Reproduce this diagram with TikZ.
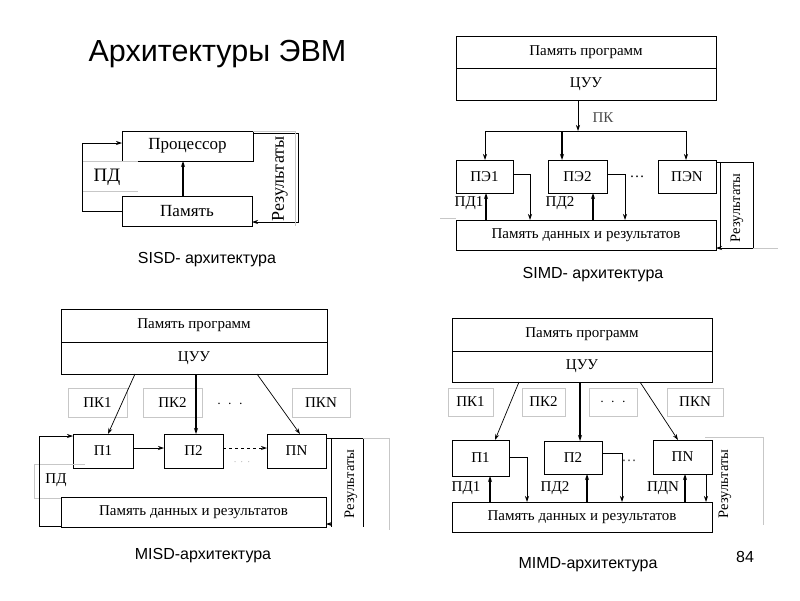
\documentclass[tikz,border=0pt]{standalone}
\usepackage{fontspec}
\setmainfont{Liberation Serif}
\newfontfamily\sansf{Liberation Sans}
\usetikzlibrary{arrows.meta}
\begin{document}
\begin{tikzpicture}[x=1pt,y=-1pt,
 box/.style={draw, line width=0.7pt, inner sep=0pt, outer sep=0pt, font=\fontsize{15}{17}\selectfont},
 lbl/.style={inner sep=0pt, outer sep=0pt, font=\fontsize{15}{17}\selectfont},
 big/.style={font=\fontsize{17}{19}\selectfont},
 restxt/.style={inner sep=0pt, outer sep=0pt, rotate=90, font=\fontsize{14.5}{16}\selectfont},
 arr/.style={line width=0.7pt, -{Stealth[length=6pt,width=4pt]}},
 tarr/.style={line width=1.4pt, -{Stealth[length=6pt,width=4pt]}},
 ln/.style={line width=0.7pt},
 faint/.style={draw=black!22, line width=0.5pt},
 captxt/.style={font=\sansf\fontsize{16}{18}\selectfont, inner sep=0pt, anchor=base}
]
\useasboundingbox[fill=white] (0,0) rectangle (800,600);

% title
\node[font=\sansf\fontsize{30.5}{33}\selectfont, inner sep=0pt, anchor=base] (title) at (217.5,61) {Архитектуры ЭВМ};

% ===== SISD =====
\node[box, big, minimum width=131, minimum height=30] (proc) at (187.5,146) {Процессор};
\node[box, big, minimum width=130, minimum height=30] (mem1) at (187,211) {Память};
\draw[line width=1.1pt, -{Stealth[length=6pt,width=4pt]}] (mem1.north -| 183,0) -- (proc.south -| 183,0);
\draw[faint] (82,161) -- (138,161) (82,191) -- (138,191);
\node[lbl, font=\fontsize{19}{21}\selectfont] (pdA) at (107,177) {ПД};
\draw[arr] (mem1.west) -| (82,143) -- (proc.west |- 82,143);
\draw[arr] (proc.east |- 0,133) -| (298,222) -- (mem1.east |- 0,222);
\draw[faint] (253,131) -- (295,131) -- (295,226);
\node[restxt, font=\fontsize{18}{20}\selectfont] (resA) at (280,179) {Результаты};
\node[captxt] (capA) at (207,263) {SISD- архитектура};

% ===== SIMD =====
\node[box, minimum width=260, minimum height=32] (pp2) at (586,52) {Память программ};
\node[box, minimum width=260, minimum height=32] (cu2) at (586,84) {ЦУУ};
\coordinate (bus2) at (578,131);
\draw[arr] (cu2.south -| bus2) -- (bus2);
\node[lbl, text=black!70] (pk2) at (603,118) {ПК};
\node[box, minimum width=57, minimum height=33] (pe1) at (484.5,176.5) {ПЭ1};
\node[box, minimum width=59, minimum height=33] (pe2) at (577.5,176.5) {ПЭ2};
\node[box, minimum width=58, minimum height=33] (peN) at (687,176.5) {ПЭN};
\node[box, minimum width=260, minimum height=30] (md2) at (586,235) {Память данных и результатов};
\draw[ln] (bus2 -| 485,0) -- (bus2 -| 686,0);
\draw[arr] (bus2 -| 485,0) -- (pe1.north -| 485,0);
\draw[tarr] (bus2 -| 562,0) -- (pe2.north -| 562,0);
\draw[arr] (bus2 -| 686,0) -- (peN.north -| 686,0);
\draw[tarr] (md2.north -| 486,0) -- (pe1.south -| 486,0);
\draw[arr] (pe1.east |- 0,174) -| (md2.north -| 530,0);
\draw[tarr] (md2.north -| 593,0) -- (pe2.south -| 593,0);
\draw[arr] (pe2.east |- 0,174) -| (md2.north -| 625,0);
\node[lbl] (pd21) at (469,203) {ПД1};
\node[lbl] (pd22) at (560,203) {ПД2};
\node[lbl] (dots2) at (637,177) {\dots};
\draw[ln] (peN.east |- 0,162) -- (753,162) -- (753,248);
\draw[ln] (720,162) -- (720,248);
\draw[arr] (753,248) -- (md2.east |- 0,248);
\draw[faint] (753,248) -- (778,248);
\draw[faint] (440,218) -- (456,218);
\node[restxt] (resB) at (737,208) {Результаты};
\node[captxt] (capB) at (593,278) {SIMD- архитектура};

% ===== MISD =====
\node[box, minimum width=266, minimum height=33] (pp3) at (194,325.5) {Память программ};
\node[box, minimum width=266, minimum height=32] (cu3) at (194,358) {ЦУУ};
\node[lbl, faint, draw, minimum width=59, minimum height=29] (pk31) at (97.5,402.5) {ПК1};
\node[lbl, faint, draw, minimum width=59, minimum height=29] (pk32) at (172.5,402.5) {ПК2};
\node[lbl, faint, draw, minimum width=58, minimum height=29] (pk3N) at (321,402.5) {ПКN};
\node[lbl] (dots31) at (230,404) {$\cdot\ \cdot\ \cdot$};
\node[box, minimum width=60, minimum height=34] (p31) at (103,451) {П1};
\node[box, minimum width=59, minimum height=34] (p32) at (193.5,451) {П2};
\node[box, minimum width=59, minimum height=34] (p3N) at (296.5,451) {ПN};
\node[box, minimum width=265, minimum height=30] (md3) at (193.5,512) {Память данных и результатов};
\draw[arr] (cu3.south -| 135,0) -- (p31.north -| 108,0);
\draw[tarr] (cu3.south -| 196,0) -- (p32.north -| 196,0);
\draw[arr] (cu3.south -| 257,0) -- (p3N.north -| 300,0);
\draw[arr] (p31.east |- 0,448) -- (p32.west |- 0,448);
\draw[arr, dashed, line width=1pt] (p32.east |- 0,448) -- (p3N.west |- 0,448);
\node[lbl, text=black!60, font=\fontsize{9}{10}\selectfont] (dots32) at (242,462) {$\cdot\ \cdot\ \cdot$};
\draw[faint] (85,464) -- (34,464) -- (34,498) -- (61,498);
\node[lbl] (pd3) at (56,480) {ПД};
\draw[arr] (md3.west |- 0,526) -| (39,436) -- (p31.west |- 0,436);
\draw[ln] (p3N.east |- 0,438) -- (363,438) -- (363,527);
\draw[ln] (331,438) -- (331,527);
\draw[arr] (331,524) -- (md3.east |- 0,524);
\draw[faint] (363,438) -- (389,438) -- (389,530);
\node[restxt] (resC) at (351,484) {Результаты};
\node[captxt] (capC) at (203,559) {MISD-архитектура};

% ===== MIMD =====
\node[box, minimum width=260, minimum height=33] (pp4) at (582,334.5) {Память программ};
\node[box, minimum width=260, minimum height=31] (cu4) at (582,366.5) {ЦУУ};
\node[lbl, faint, draw, minimum width=45, minimum height=28] (pk41) at (470.5,402) {ПК1};
\node[lbl, faint, draw, minimum width=43, minimum height=28] (pk42) at (543.5,402) {ПК2};
\node[lbl, faint, draw, minimum width=48, minimum height=28] (dots41) at (613,402) {$\cdot\ \cdot\ \cdot$};
\node[lbl, faint, draw, minimum width=56, minimum height=28] (pk4N) at (695,402) {ПКN};
\node[box, minimum width=57, minimum height=36] (p41) at (480.5,458) {П1};
\node[box, minimum width=58, minimum height=33] (p42) at (573,457.5) {П2};
\node[box, minimum width=59, minimum height=34] (p4N) at (682.5,457) {ПN};
\node[box, minimum width=260, minimum height=30] (md4) at (582,517) {Память данных и результатов};
\draw[arr] (cu4.south -| 519,0) -- (p41.north -| 495,0);
\draw[tarr] (cu4.south -| 580,0) -- (p42.north -| 580,0);
\draw[arr] (cu4.south -| 640,0) -- (p4N.north -| 678,0);
\draw[tarr] (md4.north -| 490,0) -- (p41.south -| 490,0);
\draw[arr] (p41.east |- 0,457) -| (md4.north -| 527,0);
\draw[tarr] (md4.north -| 587,0) -- (p42.south -| 587,0);
\draw[arr] (p42.east |- 0,453) -| (md4.north -| 622,0);
\draw[tarr] (md4.north -| 685,0) -- (p4N.south -| 685,0);
\draw[arr] (p4N.south -| 706,0) -- (md4.north -| 706,0);
\node[lbl] (pd41) at (466,488) {ПД1};
\node[lbl] (pd42) at (555,488) {ПД2};
\node[lbl] (pd4N) at (663,488) {ПДN};
\node[lbl, text=black!70] (dots42) at (629,461) {\dots};
\draw[faint] (705,437) -- (763,437) -- (763,525);
\node[restxt] (resD) at (725,484) {Результаты};
\node[captxt] (capD) at (588,568) {MIMD-архитектура};
\node[captxt] (pnum) at (745,562) {84};
\end{tikzpicture}
\end{document}
